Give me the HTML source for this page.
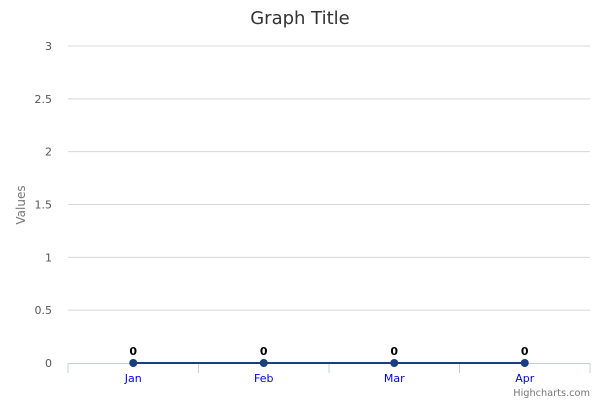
<!DOCTYPE html>
<html><head><meta charset="utf-8"><style>
body{margin:0;background:#fff;font-family:"DejaVu Sans","Liberation Sans",sans-serif;}
svg text{font-family:"DejaVu Sans","Liberation Sans",sans-serif;}
</style></head><body>
<svg id="c" width="600" height="400" xmlns="http://www.w3.org/2000/svg">
<text x="300" y="24" text-anchor="middle" font-size="18" fill="#333">Graph Title</text>
<text transform="translate(25,205) rotate(-90)" text-anchor="middle" font-size="12" fill="#777">Values</text>
<g id="grid"></g><g id="series"></g>
<text x="590" y="396" text-anchor="end" font-size="9.75" fill="#777">Highcharts.com</text>
</svg>
<script>
const categories=["Jan","Feb","Mar","Apr"];
const values=[0,0,0,0];
const yTicks=[0,0.5,1,1.5,2,2.5,3];
const yTickLabels=["0","0.5","1","1.5","2","2.5","3"];
const L=68,R=590,T=46,B=363,yMax=3;
const NS="http://www.w3.org/2000/svg";
const y=v=>B-(v/yMax)*(B-T);
const bw=(R-L)/categories.length;
const x=i=>L+bw*(i+0.5);
function mk(t,a,p){const e=document.createElementNS(NS,t);for(const k in a)e.setAttribute(k,a[k]);p.appendChild(e);return e;}
const g=document.getElementById('grid'),s=document.getElementById('series');
yTicks.forEach((v,i)=>{
 if(v>0){const l=mk('line',{x1:L,x2:R,y1:y(v),y2:y(v),stroke:'#d8d8d8','stroke-width':1},g);
 
 }
 const t=mk('text',{x:52,y:y(v)+4,'text-anchor':'end','font-size':11,fill:'#555'},g);t.textContent=yTickLabels[i];
 
 
});
const ax=mk('line',{x1:L,x2:R,y1:B+0.5,y2:B+0.5,stroke:'#c0d0e0','stroke-width':1},g);


for(let i=0;i<=categories.length;i++){
 const tk=mk('line',{x1:L+bw*i,x2:L+bw*i,y1:B,y2:B+10,stroke:'#c0d0e0'},g);
 
 
}
categories.forEach((c,i)=>{
 const t=mk('text',{x:x(i),y:382,'text-anchor':'middle','font-size':11,fill:'#0000ee'},g);t.textContent=c;
 
 
});
const pl=mk('polyline',{points:values.map((v,i)=>x(i)+','+y(v)).join(' '),fill:'none',stroke:'#1a3f7a','stroke-width':2},s);


values.forEach((v,i)=>{
 const c=mk('circle',{cx:x(i),cy:y(v),r:4,fill:'#1a3f7a'},s);
 
 
 const t=mk('text',{x:x(i),y:y(v)-8,'text-anchor':'middle','font-size':11,'font-weight':'bold',fill:'#000'},s);t.textContent=v;
 
 
});
</script>
</body></html>
